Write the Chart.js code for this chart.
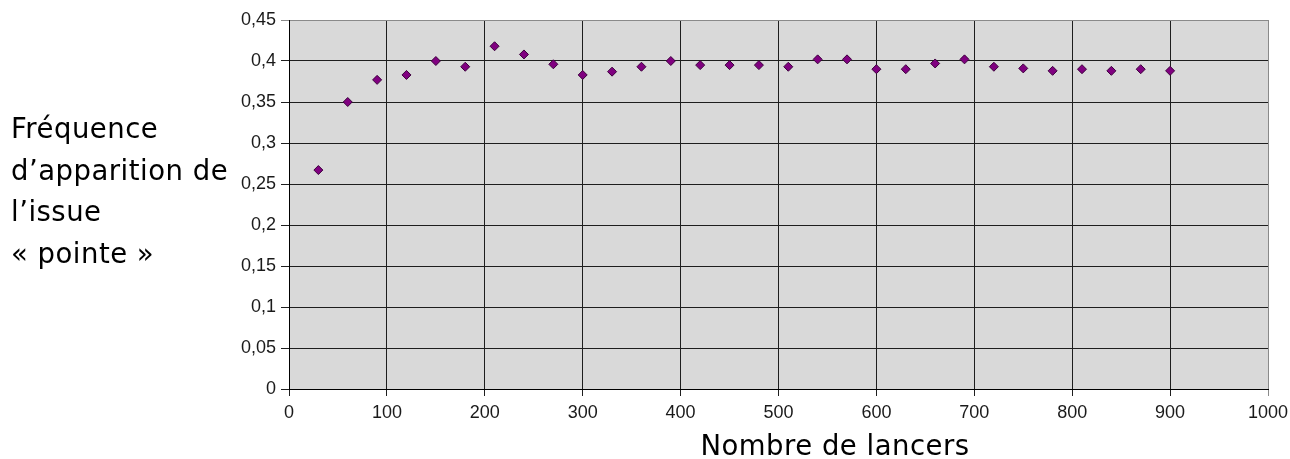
<!DOCTYPE html>
<html>
<head>
<meta charset="utf-8">
<script src="https://cdn.jsdelivr.net/npm/chart.js@4/dist/chart.umd.min.js"></script>
<style>
  html, body { margin: 0; padding: 0; background: #ffffff; }
  #c { display: block; }
</style>
</head>
<body>
<canvas id="c" width="1290" height="459"></canvas>
<script>
// ---- Data ----
const lancers = [30, 60, 90, 120, 150, 180, 210, 240, 270, 300, 330, 360, 390, 420, 450,
                 480, 510, 540, 570, 600, 630, 660, 690, 720, 750, 780, 810, 840, 870, 900];
const frequences = [0.267, 0.350, 0.377, 0.383, 0.400, 0.393, 0.418, 0.408, 0.396, 0.383,
                    0.387, 0.393, 0.400, 0.395, 0.395, 0.395, 0.393, 0.402, 0.402, 0.390,
                    0.390, 0.397, 0.402, 0.393, 0.391, 0.388, 0.390, 0.388, 0.390, 0.388];
const xTicks = { min: 0, max: 1000, step: 100 };
const yTicks = { min: 0, max: 0.45, step: 0.05 };
const yTitleLines = ["Fréquence", "d’apparition de", "l’issue", "« pointe »"];
const xTitle = "Nombre de lancers";

const points = lancers.map((x, i) => ({ x: x, y: frequences[i] }));

const titleFont = '27.5px "DejaVu Sans"';
const tickFont = { family: '"Liberation Sans", Arial, sans-serif', size: 18 };

const decorPlugin = {
  id: 'decor',
  beforeDraw(chart) {
    const { ctx, chartArea: a } = chart;
    ctx.save();
    ctx.fillStyle = '#d9d9d9';
    ctx.fillRect(a.left, a.top, a.right - a.left, a.bottom - a.top);
    ctx.restore();
  },
  afterDraw(chart) {
    const { ctx } = chart;
    ctx.save();
    ctx.fillStyle = '#000000';
    ctx.font = titleFont;
    try { ctx.letterSpacing = '0.5px'; } catch (e) {}
    ctx.textAlign = 'left';
    ctx.textBaseline = 'alphabetic';
    const baselines = [138, 180, 221, 263];
    yTitleLines.forEach((t, i) => ctx.fillText(t, 11, baselines[i]));
    ctx.textAlign = 'center';
    ctx.fillText(xTitle, 835, 455);
    ctx.restore();
  }
};

const gridColor = (maxVal) => (c) => {
  if (c.tick && Math.abs(c.tick.value - maxVal) < 1e-9) return '#8a8a8a';
  return '#1e1e1e';
};

new Chart(document.getElementById('c'), {
  type: 'scatter',
  data: {
    datasets: [{
      data: points,
      showLine: false,
      pointStyle: 'rectRot',
      pointRadius: 4.5,
      pointHoverRadius: 4.5,
      backgroundColor: '#800080',
      borderColor: '#3d003d',
      borderWidth: 1
    }]
  },
  options: {
    responsive: false,
    animation: false,
    events: [],
    layout: { padding: { top: 20, right: 22, left: 0, bottom: 0 } },
    plugins: { legend: { display: false }, tooltip: { enabled: false } },
    scales: {
      x: {
        type: 'linear',
        min: xTicks.min,
        max: xTicks.max,
        ticks: {
          stepSize: xTicks.step,
          font: tickFont,
          color: '#1a1a1a',
          padding: 6,
          maxRotation: 0,
          callback: (v) => String(v)
        },
        grid: { color: gridColor(xTicks.max), tickLength: 7, lineWidth: 1 },
        border: { color: '#000000', width: 1 },
        afterFit(s) { s.height = 70; s.paddingLeft = 0; s.paddingRight = 0; }
      },
      y: {
        type: 'linear',
        min: yTicks.min,
        max: yTicks.max,
        ticks: {
          stepSize: yTicks.step,
          font: tickFont,
          color: '#1a1a1a',
          padding: 5,
          callback: (v) => parseFloat(Number(v).toFixed(2)).toString().replace('.', ',')
        },
        grid: { color: gridColor(yTicks.max), tickLength: 8, lineWidth: 1 },
        border: { color: '#000000', width: 1 },
        afterFit(s) { s.width = 289; s.paddingTop = 0; s.paddingBottom = 0; }
      }
    }
  },
  plugins: [decorPlugin]
});
</script>
</body>
</html>
